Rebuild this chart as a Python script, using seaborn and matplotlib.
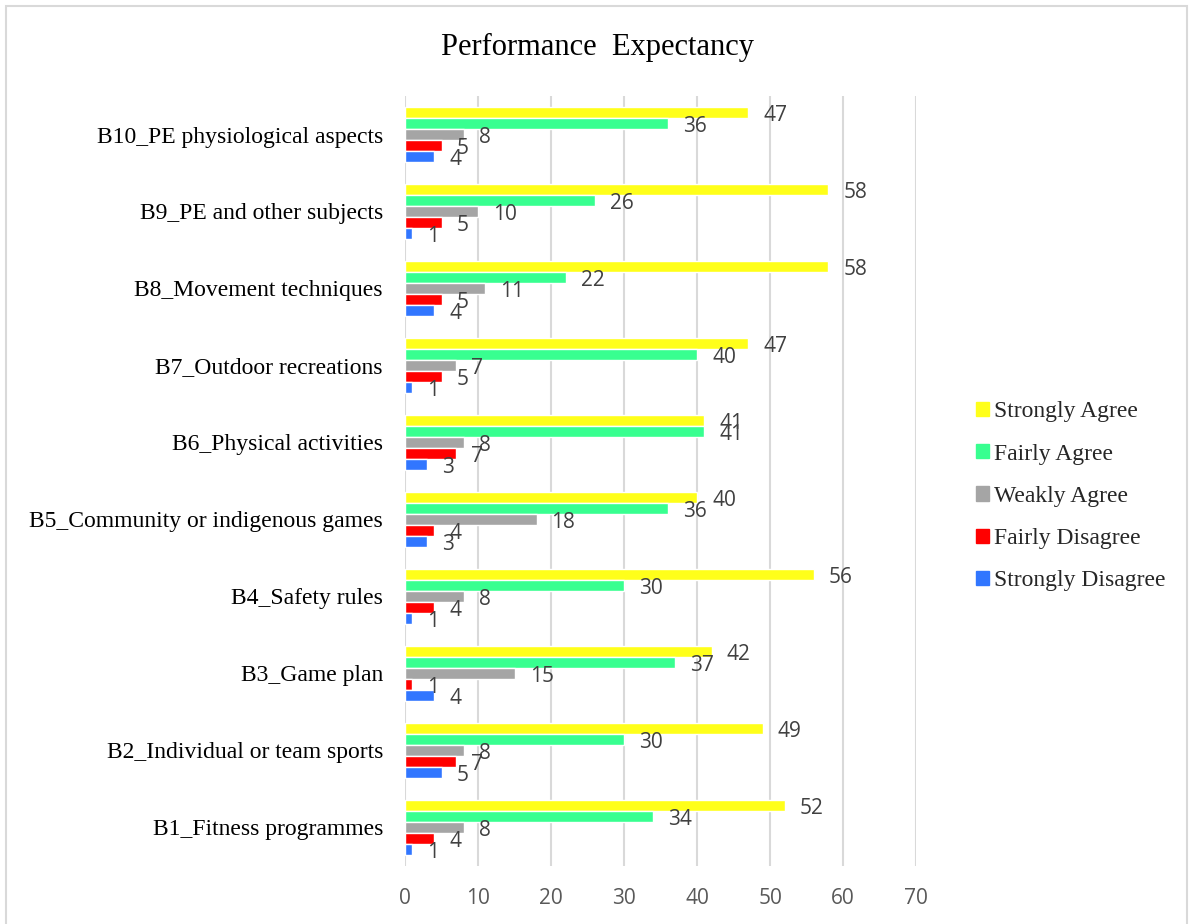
import matplotlib
matplotlib.use("Agg")
import matplotlib.pyplot as plt
import matplotlib.patches as mpatches
import pandas as pd
import seaborn as sns

# Survey items, listed top to bottom as shown on the chart
items = [
    "B10_PE physiological aspects",
    "B9_PE and other subjects",
    "B8_Movement techniques",
    "B7_Outdoor recreations",
    "B6_Physical activities",
    "B5_Community or indigenous games",
    "B4_Safety rules",
    "B3_Game plan",
    "B2_Individual or team sports",
    "B1_Fitness programmes",
]

responses = ["Strongly Agree", "Fairly Agree", "Weakly Agree",
             "Fairly Disagree", "Strongly Disagree"]

strongly_agree = [47, 58, 58, 47, 41, 40, 56, 42, 49, 52]
fairly_agree = [36, 26, 22, 40, 41, 36, 30, 37, 30, 34]
weakly_agree = [8, 10, 11, 7, 8, 18, 8, 15, 8, 8]
fairly_disagree = [5, 5, 5, 5, 7, 4, 4, 1, 7, 4]
strongly_disagree = [4, 1, 4, 1, 3, 3, 1, 4, 5, 1]

colors = ["#FFFF1A", "#38FF90", "#A5A5A5", "#FF0000", "#3176FF"]

series = [strongly_agree, fairly_agree, weakly_agree,
          fairly_disagree, strongly_disagree]
df = pd.DataFrame(
    [(item, resp, vals[i])
     for resp, vals in zip(responses, series)
     for i, item in enumerate(items)],
    columns=["item", "response", "count"],
)

sns.set_style("white")
serif = ["Liberation Serif", "DejaVu Serif"]
sans = ["Open Sans", "DejaVu Sans"]

fig = plt.figure(figsize=(11.95, 9.24), dpi=100)
ax = fig.add_axes([0.339, 0.0628, 0.4276, 0.8333])

sns.barplot(
    data=df, y="item", x="count", hue="response",
    order=items, hue_order=responses, palette=colors,
    orient="h", width=0.72, gap=0, saturation=1,
    errorbar=None, ax=ax, legend=True,
)

# value labels just beyond each bar end
for cont in ax.containers:
    for bar, val in zip(cont, cont.datavalues):
        ax.annotate(
            f"{val:g}",
            xy=(bar.get_width(), bar.get_y() + bar.get_height() / 2),
            xytext=(15, -3), textcoords="offset pixels",
            ha="left", va="center", fontsize=15,
            color="#404040", family=sans,
        )

ax.set_xlim(0, 70)
ax.set_xticks(range(0, 71, 10))
ax.set_ylim(len(items) - 0.5, -0.5)
ax.grid(axis="x", color="#D9D9D9", linewidth=1.5)
ax.set_axisbelow(True)
for s in ax.spines.values():
    s.set_visible(False)
ax.set_xlabel("")
ax.set_ylabel("")
ax.tick_params(axis="both", length=0)
ax.tick_params(axis="x", pad=16, labelsize=15, labelcolor="#595959")
ax.tick_params(axis="y", pad=16, labelsize=17, labelcolor="#000000")
for lab in ax.get_xticklabels():
    lab.set_family(sans)
for lab in ax.get_yticklabels():
    lab.set_family(serif)

handles = [mpatches.Patch(color=c, label=r) for c, r in zip(colors, responses)]
ax.legend(
    handles=handles, loc="center left", bbox_to_anchor=(1.098, 0.48),
    frameon=False, prop={"family": serif, "size": 17},
    handlelength=0.55, handleheight=0.55, handletextpad=0.25,
    labelspacing=0.9, borderaxespad=0,
)

fig.text(0.5, 1 - 47 / 924, "Performance  Expectancy", ha="center",
         va="center", fontsize=22, family=serif, color="#000000")

# light outer frame around the chart area
fig.patches.append(mpatches.Rectangle(
    (6 / 1195, -0.05), (1187 - 6) / 1195, 1.05 - 6 / 924,
    transform=fig.transFigure, fill=False,
    edgecolor="#D9D9D9", linewidth=1.5,
))

fig.savefig("out.png", dpi=100)
